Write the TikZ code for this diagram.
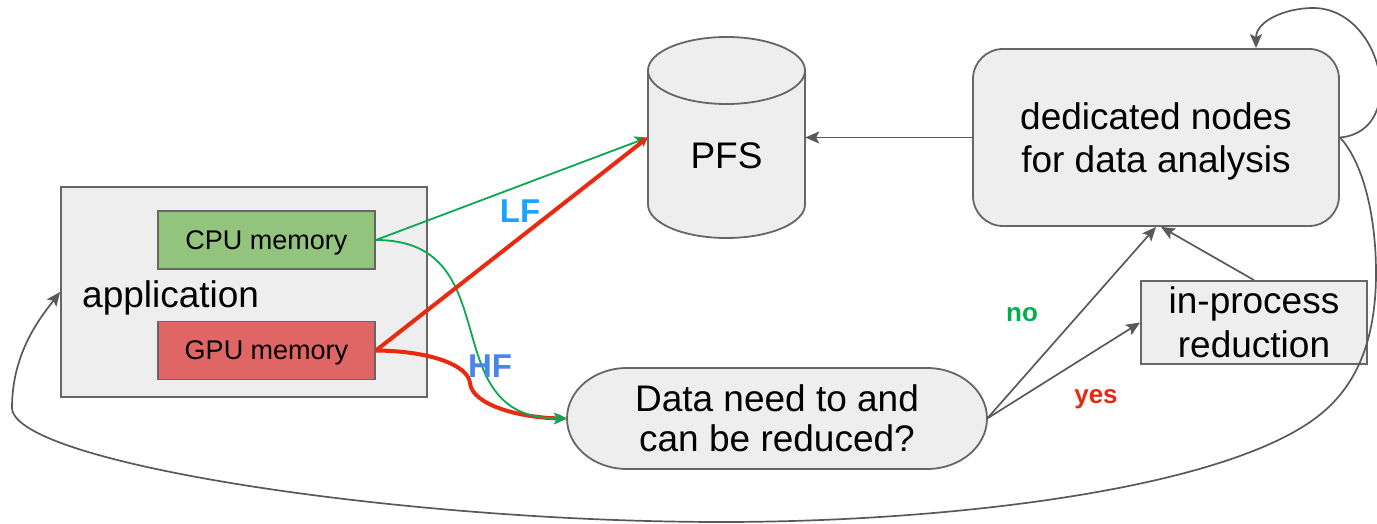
\documentclass[tikz,border=0pt]{standalone}
\usepackage{fontspec}
\setmainfont{Liberation Sans}
\usetikzlibrary{arrows.meta,calc}
\definecolor{shapefill}{HTML}{EEEEEE}
\definecolor{shapeline}{HTML}{666666}
\definecolor{arrowgray}{HTML}{595959}
\definecolor{cpugreen}{HTML}{93C47D}
\definecolor{gpured}{HTML}{E06666}
\definecolor{linegreen}{HTML}{0BA84F}
\definecolor{linered}{HTML}{EA2A10}
\definecolor{lfblue}{HTML}{1AA3FF}
\definecolor{hfblue}{HTML}{4A86E8}
\definecolor{nogreen}{HTML}{00B050}
\definecolor{yesred}{HTML}{E8280F}
\begin{document}
\begin{tikzpicture}[x=1pt,y=1pt,
  box/.style={draw=shapeline, fill=shapefill, line width=1.8pt, inner sep=0pt},
  bigtext/.style={font=\fontsize{37}{43}\selectfont},
  memtext/.style={font=\fontsize{27}{30}\selectfont},
  flabel/.style={font=\fontsize{33}{36}\selectfont\bfseries, anchor=base},
  dlabel/.style={font=\fontsize{26}{28}\selectfont\bfseries, anchor=base},
  grayarrow/.style={draw=arrowgray, line width=1.7pt, -{Stealth[length=14pt,width=12pt,inset=3pt]}},
  greenarrow/.style={draw=linegreen, line width=1.8pt, -{Stealth[length=13pt,width=12pt,inset=3pt]}},
  redarrow/.style={draw=linered, line width=4pt, -{Stealth[length=9pt,width=9pt,inset=2pt]}}]
\useasboundingbox (0,0) rectangle (1377,523);

% application box
\node[box, minimum width=366pt, minimum height=210pt] (app) at (244,231) {};
\node[bigtext, anchor=base west, inner sep=0pt] (applabel) at (82,215) {application};
\node[box, fill=cpugreen, minimum width=217pt, minimum height=58pt, text depth=0pt, memtext] (cpu) at (266.5,283) {CPU memory};
\node[box, fill=gpured, minimum width=217pt, minimum height=58pt, text depth=0pt, memtext] (gpu) at (266.5,172.5) {GPU memory};

% PFS cylinder
\path[box] (648,452.5) -- (648,318.5)
  arc[start angle=180,end angle=360,x radius=78.5pt,y radius=33.5pt]
  -- (805,452.5)
  arc[start angle=0,end angle=180,x radius=78.5pt,y radius=33.5pt] -- cycle;
\draw[draw=shapeline, line width=1.8pt] (648,452.5)
  arc[start angle=180,end angle=360,x radius=78.5pt,y radius=33.5pt];
\node[minimum width=157pt, minimum height=201pt, inner sep=0pt] (pfs) at (726.5,385.5) {};
\node[bigtext, anchor=base, inner sep=0pt] (pfslabel) at (726.5,354) {PFS};

% dedicated nodes
\node[box, rounded corners=30pt, minimum width=366pt, minimum height=177pt] (ded) at (1156,385.5) {};
\node[align=center, bigtext, inner sep=0pt] (dedlabel) at ([yshift=-4pt]ded.center) {dedicated nodes\\for data analysis};

% in-process reduction
\node[box, minimum width=226pt, minimum height=83pt, align=center, font=\fontsize{37}{44}\selectfont] (inproc) at (1254,200.5) {in-process\\reduction};

% decision shape
\path[box] (627,155) -- (927,155)
  arc[start angle=90,end angle=-90,x radius=60pt,y radius=50.5pt]
  -- (627,54)
  arc[start angle=270,end angle=90,x radius=60pt,y radius=50.5pt] -- cycle;
\node[minimum width=420pt, minimum height=101pt, inner sep=0pt, align=center, font=\fontsize{37}{40}\selectfont] (data) at (777,104.5) {Data need to and\\can be reduced?};

% connectors
\draw[grayarrow] (ded.west) -- (pfs.east);
\draw[grayarrow] (data.east) -- (ded.south);
\draw[grayarrow] (data.east) -- (inproc.west);
\draw[grayarrow] (inproc.north) -- ([xshift=5pt]ded.south);

\coordinate (redbend) at (470,140);
\draw[redarrow] (gpu.east) .. controls (430,172) and (468,158) .. (redbend)
  .. controls (472,118) and (520,105) .. (data.west);
\draw[greenarrow] (cpu.east) to[out=0,in=180,looseness=1.32] (data.west);
\draw[greenarrow] (cpu.east) -- (pfs.west);
\draw[redarrow] (gpu.east) -- (pfs.west);

% self loop
\coordinate (looptop) at (1313,515);
\draw[grayarrow] (ded.east) to[out=5,in=0,looseness=1.35] (looptop) to[out=180,in=90] ([xshift=100pt]ded.north);

% big loop back to application
\draw[grayarrow] (ded.east) .. controls (1362,362) and (1376,310) .. (1376,250)
  .. controls (1376,180) and (1355,135) .. (1317,106)
  .. controls (1222,33.5) and (950,1) .. (722,1)
  .. controls (400,1) and (14,60) .. (12,115)
  .. controls (12,170) and (40,205) .. (app.west);

% labels
\node[flabel, text=lfblue] (lf) at (520,300) {LF};
\node[flabel, text=hfblue] (hf) at (490,146) {HF};
\node[dlabel, text=nogreen] (no) at (1022,202) {no};
\node[dlabel, text=yesred] (yes) at (1096,120) {yes};
\end{tikzpicture}
\end{document}
